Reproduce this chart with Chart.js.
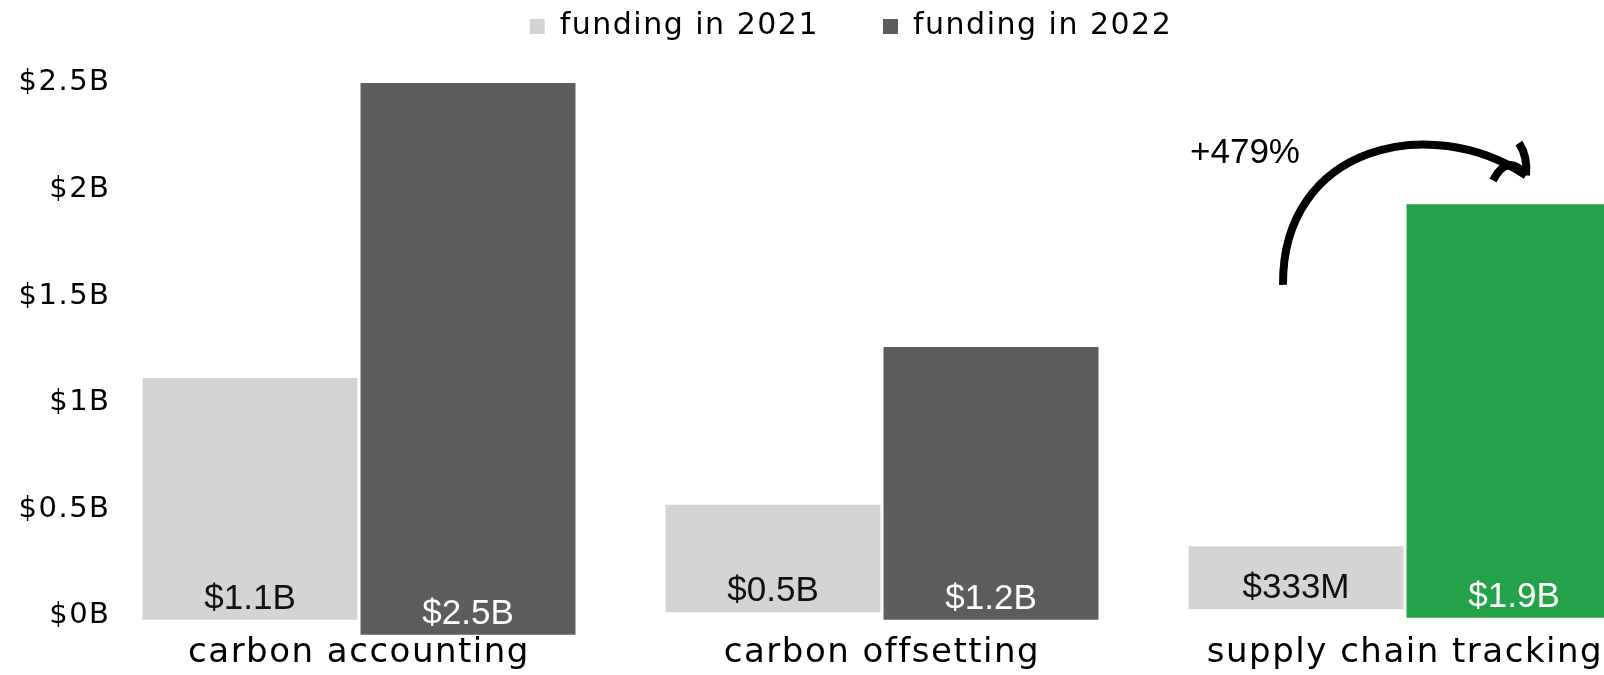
<!DOCTYPE html>
<html>
<head>
<meta charset="utf-8">
<script src="https://cdn.jsdelivr.net/npm/chart.js@4"></script>
<style>
  html, body { margin: 0; padding: 0; overflow: hidden; background: #ffffff; }
  #wrap { width: 1604px; height: 675px; overflow: hidden; }
  canvas { display: block; }
</style>
</head>
<body>
<div id="wrap"><canvas id="c" width="1686" height="675"></canvas></div>
<script>
// ---- data ----
const categories = ['carbon accounting', 'carbon offsetting', 'supply chain tracking'];
const seriesNames = ['funding in 2021', 'funding in 2022'];
const funding2021 = [1.115, 0.52, 0.325];      // $B (bar top)
const funding2022 = [2.50, 1.26, 1.93];        // $B (bar top)
const base2021 = [-0.02, 0.015, 0.03];         // $B (bar bottom, as drawn)
const base2022 = [-0.09, -0.02, -0.01];        // $B (bar bottom, as drawn)
const valueLabels2021 = ['$1.1B', '$0.5B', '$333M'];
const valueLabels2022 = ['$2.5B', '$1.2B', '$1.9B'];
const yTickValues = [0, 0.5, 1, 1.5, 2, 2.5];
const yTickLabels = ['$0B', '$0.5B', '$1B', '$1.5B', '$2B', '$2.5B'];
const annotationText = '+479%';
const highlightCategory = 'supply chain tracking';

const LIGHT = '#d4d4d4';
const DARK = '#5d5d5d';
const GREEN = '#24a24a';
const SANS = '"DejaVu Sans", Verdana, sans-serif';
const ARIAL = '"Liberation Sans", Arial, sans-serif';

const spacingPlugin = {
  id: 'spacing',
  beforeLayout(chart) { chart.ctx.letterSpacing = '1.5px'; },
  beforeDraw(chart) {
    chart.ctx.letterSpacing = '1.5px';
    // let y tick labels extend past the axis box (no clipping)
    chart.scales.y._computeLabelArea = () => undefined;
  }
};

const valueLabelPlugin = {
  id: 'valueLabels',
  afterDatasetsDraw(chart) {
    const ctx = chart.ctx;
    const labelSets = [valueLabels2021, valueLabels2022];
    ctx.save();
    ctx.letterSpacing = '0px';
    ctx.font = '35px ' + ARIAL;
    ctx.textAlign = 'center';
    ctx.textBaseline = 'alphabetic';
    chart.data.datasets.forEach((ds, di) => {
      const meta = chart.getDatasetMeta(di);
      ctx.fillStyle = di === 0 ? '#111111' : '#ffffff';
      meta.data.forEach((bar, i) => {
        const bottom = Math.max(bar.y, bar.base);
        ctx.fillText(labelSets[di][i], bar.x, bottom - 11);
      });
    });
    ctx.restore();
  }
};

const arrowPlugin = {
  id: 'arrow',
  afterDraw(chart) {
    const ctx = chart.ctx;
    const xs = chart.scales.x, ys = chart.scales.y;
    const xc = xs.getPixelForValue(categories.indexOf(highlightCategory));
    const Y = v => ys.getPixelForValue(v);
    ctx.save();
    ctx.letterSpacing = '0px';
    ctx.strokeStyle = '#000';
    ctx.lineWidth = 8;
    ctx.lineCap = 'butt';
    ctx.beginPath();
    ctx.moveTo(xc - 122, Y(1.552));
    ctx.bezierCurveTo(xc - 123, Y(2.205), xc + 25, Y(2.365), xc + 121, Y(2.066));
    ctx.stroke();
    // arrow head
    ctx.beginPath();
    ctx.moveTo(xc + 114, Y(2.218));
    ctx.quadraticCurveTo(xc + 123, Y(2.152), xc + 121, Y(2.066));
    ctx.stroke();
    ctx.beginPath();
    ctx.moveTo(xc + 88, Y(2.043));
    ctx.quadraticCurveTo(xc + 103, Y(2.175), xc + 121, Y(2.066));
    ctx.stroke();
    // annotation text
    ctx.fillStyle = '#000';
    ctx.font = '35px ' + ARIAL;
    ctx.textAlign = 'center';
    ctx.textBaseline = 'alphabetic';
    ctx.fillText(annotationText, xc - 160, Y(2.125));
    ctx.restore();
  }
};

new Chart(document.getElementById('c'), {
  type: 'bar',
  data: {
    labels: categories,
    datasets: [
      {
        label: seriesNames[0],
        data: funding2021.map((v, i) => [base2021[i], v]),
        backgroundColor: LIGHT,
        clip: false,
        categoryPercentage: 0.8337,
        barPercentage: 0.986
      },
      {
        label: seriesNames[1],
        data: funding2022.map((v, i) => [base2022[i], v]),
        backgroundColor: (c) => (c.dataIndex !== undefined && categories[c.dataIndex] === highlightCategory) ? GREEN : DARK,
        clip: false,
        categoryPercentage: 0.8337,
        barPercentage: 0.986
      }
    ]
  },
  options: {
    responsive: false,
    animation: false,
    layout: { padding: { top: -52.5, left: 35.5, right: 19.5, bottom: -2 } },
    plugins: {
      tooltip: { enabled: false },
      legend: {
        position: 'top',
        align: 'center',
        labels: {
          boxWidth: 15,
          boxHeight: 15,
          padding: 64,
          color: '#000',
          font: { family: SANS, size: 30 }
        }
      }
    },
    scales: {
      x: {
        grid: { display: false, drawTicks: false },
        border: { display: false },
        ticks: { color: '#000', font: { family: SANS, size: 34 }, padding: 3, maxRotation: 0, autoSkip: false }
      },
      y: {
        min: -0.0687,
        max: 2.6475,
        grid: { display: false, drawTicks: false },
        border: { display: false },
        afterBuildTicks: (scale) => { scale.ticks = yTickValues.map(v => ({ value: v })); },
        afterFit: (scale) => { scale.width = 62; },
        ticks: {
          color: '#000',
          padding: -13,
          font: { family: SANS, size: 29 },
          callback: (value) => {
            const i = yTickValues.findIndex(t => Math.abs(t - value) < 1e-9);
            return i >= 0 ? yTickLabels[i] : '';
          }
        }
      }
    }
  },
  plugins: [spacingPlugin, valueLabelPlugin, arrowPlugin]
});
</script>
</body>
</html>
